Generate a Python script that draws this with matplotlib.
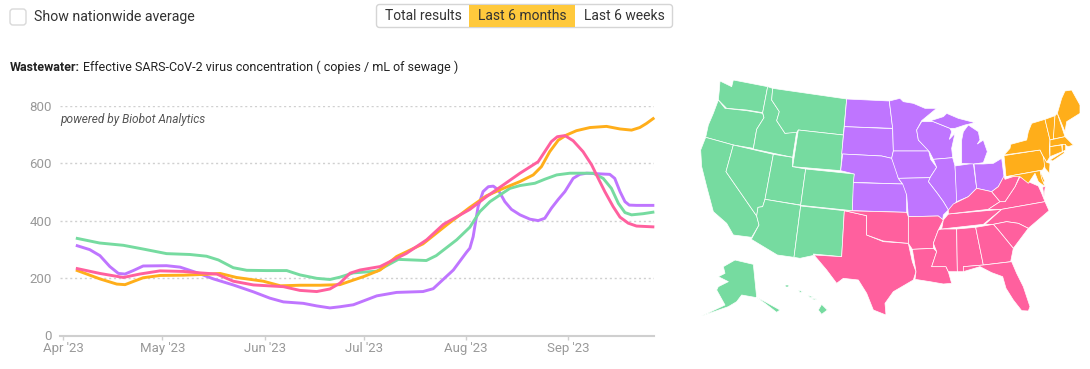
import matplotlib
matplotlib.use("Agg")
import matplotlib.pyplot as plt
from matplotlib.patches import Polygon, Rectangle, FancyBboxPatch

W, H = 1090, 369
FONT = "Roboto"

tick_days = [0, 30, 61, 91, 122, 153]
tick_labels = ["Apr '23", "May '23", "Jun '23", "Jul '23", "Aug '23", "Sep '23"]
y_ticks = [0, 200, 400, 600, 800]

green_x = [3.8,11,18.2,24.2,31.3,38.4,43.4,47,51.5,55.6,61.6,67.7,71.7,76.8,80.8,83.8,87.9,95,97.5,101.5,110,113,119.2,123.2,126.2,129.3,132.3,135.3,138.4,142.9,145.9,149.5,153.5,160.6,163.6,166.1,168.2,170.2,172.2,175.7,179.1]
green_y = [339,322,314,301,285,282,276,263,236,227,226,226,211,199,195,203,218,224,240,265,261,278,333,377,431,466,489,512,522,530,544,559,565,565,547,512,460,428,420,424,430]

purple_x = [3.8,8,11.1,14.1,16.7,18.7,21.2,24.2,31.3,35.4,40.4,45.5,51.5,57.6,62.6,66.7,72.7,76.8,80.8,83.8,87.9,95,101,109,112.1,118.2,122.2,123.2,124.2,125.7,127.2,128.8,130.3,131.8,133.8,135.8,138.4,141.4,143.9,145.9,147.9,150,152,154.5,156.5,158.6,165.6,167.1,168.7,170.2,171.5,173.7,179.1]
purple_y = [314,299,278,240,216,214,226,242,243,238,219,197,176,152,130,117,112,103,96,100,107,138,150,153,163,228,290,304,344,449,501,518,520,507,466,439,420,405,400,408,443,474,501,547,561,565,561,547,501,466,454,453,453]

orange_x = [3.8,11.1,16.2,18.7,21.2,24.2,29.3,36.4,43.4,47.5,52.5,60.6,65.8,71.7,77.8,83.8,91,96,101,109,116.2,123.2,128.2,133.3,138.4,142.4,144.9,147.4,150,152.5,155.5,159.6,164.6,168.7,172.2,174.7,176.7,179.1]
orange_y = [228,197,179,177,188,201,209,210,213,216,202,189,173,175,175,177,205,228,275,319,385,446,486,512,536,559,588,640,680,698,713,724,728,719,715,724,738,758]

pink_x = [3.8,11.1,18.2,23.2,29.3,36.4,41.4,46.5,51.5,57.6,66.7,71.7,76.8,80.8,83.8,86.9,89.9,96,104,110.1,115.2,123.2,128.2,133.3,138.4,143.9,145.9,147.9,149.7,152,154.5,157.5,160.1,162.1,164.1,166.6,168.7,171.2,173.7,179.1]
pink_y = [234,216,202,214,225,223,218,214,189,176,170,157,153,162,182,217,228,240,286,333,387,439,483,524,565,605,640,675,692,696,678,640,594,547,501,449,412,391,381,378]

C_GREEN, C_PURPLE, C_ORANGE, C_PINK = "#76DBA0", "#BF75FF", "#FFAE1A", "#FF609E"

west_states = {
 "WA": [(90,3),(125,20),(130,0),(233,20),(218,98),(170,90),(110,85),(85,60),(88,30)],
 "OR": [(85,60),(105,85),(170,92),(218,100),(222,113),(200,148),(190,205),(130,195),(47,172),(55,135),(70,100)],
 "CA": [(47,172),(130,195),(108,275),(200,408),(207,435),(185,472),(130,465),(110,430),(70,395),(50,320),(35,260),(32,210)],
 "NV": [(130,195),(250,223),(225,358),(218,380),(204,382),(200,408),(108,275)],
 "ID": [(233,20),(248,25),(245,60),(268,95),(260,122),(285,160),(320,155),(308,232),(190,207),(200,148),(222,113),(218,98)],
 "MT": [(248,25),(470,57),(460,165),(325,150),(320,157),(285,160),(260,122),(268,95),(245,60)],
 "WY": [(325,150),(460,165),(452,272),(308,260)],
 "UT": [(250,223),(308,232),(307,260),(347,267),(332,375),(225,358)],
 "CO": [(347,267),(493,282),(487,392),(332,376)],
 "AZ": [(225,358),(332,376),(312,532),(262,525),(184,478),(207,435),(200,408),(204,382),(218,380)],
 "NM": [(332,378),(463,392),(455,530),(370,522),(372,526),(330,535),(312,532)],
 "AK": [(100,560),(135,540),(190,553),(200,652),(225,665),(270,690),(260,697),(225,670),(200,653),(155,645),(140,665),(115,680),(35,708),(105,675),(80,630),(85,620),(115,605),(85,590),(105,580)],
 "HI1": [(385,690),(395,673),(412,690),(395,703)],
 "HI2": [(285,615),(297,615),(295,621),(287,621)],
 "HI3": [(325,630),(338,635),(330,638)],
 "HI4": [(355,647),(370,650),(360,653)],
 "HI5": [(365,655),(380,657),(372,660)],
}
purple_states = {
 "ND": [(470,57),(598,63),(608,145),(463,140)],
 "SD": [(463,140),(608,146),(610,213),(605,235),(575,228),(455,222)],
 "NE": [(458,222),(575,228),(605,235),(617,262),(625,295),(637,312),(490,307),(493,282),(452,272)],
 "KS": [(490,308),(640,312),(650,330),(650,397),(487,392)],
 "MN": [(598,63),(630,55),(640,65),(670,70),(705,85),(740,85),(695,122),(680,150),(685,180),(715,210),(716,213),(610,213),(608,145)],
 "IA": [(610,213),(716,213),(722,238),(740,262),(720,293),(625,295),(605,235)],
 "WI": [(695,125),(730,125),(780,145),(785,155),(778,178),(795,160),(785,205),(788,233),(730,238),(718,215),(685,180),(680,150)],
 "IL": [(730,238),(788,233),(795,258),(802,360),(790,380),(775,390),(760,365),(742,340),(715,305),(720,293),(740,262)],
 "MO": [(625,295),(720,293),(715,305),(742,340),(760,365),(775,390),(760,405),(758,420),(745,408),(655,410),(650,345),(638,312)],
 "IN": [(795,258),(850,250),(860,325),(835,350),(800,365)],
 "MI": [(815,250),(815,180),(820,155),(835,135),(865,155),(870,180),(862,192),(880,180),(892,215),(880,248),(852,252)],
 "UP": [(722,122),(760,110),(770,100),(805,115),(855,128),(825,135),(795,145),(780,145),(730,125)],
 "OH": [(852,252),(880,252),(910,250),(935,235),(942,290),(925,320),(905,335),(860,325)],
}
pink_states = {
 "TX": [(463,392),(530,407),(530,465),(580,485),(655,490),(667,545),(678,575),(670,600),(610,635),(585,670),(588,705),(550,690),(530,640),(505,600),(460,595),(440,610),(410,570),(372,525),(455,530)],
 "OK": [(463,392),(650,397),(655,410),(655,490),(580,483),(530,465),(530,407)],
 "AR": [(655,410),(745,408),(760,420),(745,450),(730,490),(730,505),(667,508),(655,490)],
 "LA": [(667,508),(730,505),(740,515),(725,560),(768,560),(775,575),(785,610),(760,612),(720,605),(675,598),(678,575)],
 "MS": [(755,447),(800,447),(802,575),(775,575),(768,560),(725,560),(740,515),(730,490),(745,450)],
 "AL": [(800,447),(857,442),(880,555),(820,560),(822,575),(802,575)],
 "TN": [(760,420),(775,402),(935,388),(880,433),(755,447)],
 "KY": [(775,390),(790,372),(835,350),(860,325),(905,335),(930,365),(895,388),(775,402)],
 "VA": [(895,388),(930,365),(945,365),(975,320),(990,290),(1015,305),(1045,318),(1055,340),(1065,365),(935,388)],
 "WV": [(905,335),(925,320),(942,288),(945,298),(975,288),(990,285),(975,320),(945,365),(930,365)],
 "VA2": [(1058,322),(1066,318),(1062,350)],
 "NC": [(1065,365),(1077,392),(1015,445),(985,430),(950,425),(910,433),(885,433),(935,388)],
 "SC": [(910,433),(950,425),(985,430),(1015,445),(970,505),(925,450)],
 "GA": [(857,442),(910,433),(925,450),(970,505),(962,545),(880,555)],
 "FL": [(820,560),(880,555),(965,545),(980,580),(1000,620),(1020,680),(1015,693),(995,692),(970,660),(948,625),(938,590),(905,578),(870,560),(820,575)],
}
orange_states = {
 "PA": [(942,227),(1050,210),(1060,230),(1070,247),(1058,270),(948,290)],
 "NY": [(942,225),(960,205),(962,193),(1010,180),(1015,155),(1025,130),(1065,118),(1080,180),(1078,210),(1080,230),(1070,247),(1060,230),(1050,210)],
 "LI": [(1080,240),(1120,215),(1125,218),(1088,243)],
 "NJ": [(1060,230),(1070,247),(1080,250),(1078,280),(1065,265)],
 "DE": [(1050,273),(1065,305),(1055,307)],
 "MD": [(948,290),(1050,272),(1055,295),(1065,320),(1045,305),(1035,280),(1015,310),(990,290),(970,290)],
 "VT": [(1065,118),(1095,107),(1093,145),(1090,177),(1080,180)],
 "NH": [(1095,107),(1102,100),(1125,170),(1090,177)],
 "ME": [(1102,100),(1115,55),(1125,33),(1145,30),(1170,75),(1170,100),(1130,125),(1125,155)],
 "MA": [(1080,180),(1125,170),(1150,195),(1135,200),(1120,193),(1080,200)],
 "CT": [(1080,200),(1115,195),(1117,215),(1080,230)],
 "RI": [(1117,193),(1127,193),(1127,210),(1117,215)],
}

fig = plt.figure(figsize=(W/100, H/100), dpi=100, facecolor="white")

def box(x0, y0, x1, y1):
    return [x0/W, 1-y1/H, (x1-x0)/W, (y1-y0)/H]

bg = fig.add_axes([0, 0, 1, 1], zorder=0)
bg.set_xlim(0, W); bg.set_ylim(H, 0); bg.axis("off")
bg.add_patch(FancyBboxPatch((10, 9), 16, 16, boxstyle="round,pad=0,rounding_size=3", fc="white", ec="#d9d9d9", lw=1))
bg.add_patch(FancyBboxPatch((376.5, 4.5), 296, 23, boxstyle="round,pad=0,rounding_size=3", fc="white", ec="#d5d5d5", lw=1))
bg.add_patch(Rectangle((469, 5), 106, 22, fc="#FFC93C", ec="none"))
bg.text(33.5, 17, "Show nationwide average", fontfamily=FONT, fontsize=10.2, color="#333333", va="center", ha="left")
for cx, s in zip([423, 522, 624], ["Total results", "Last 6 months", "Last 6 weeks"]):
    bg.text(cx, 16, s, fontfamily=FONT, fontsize=10, color="#333333", va="center", ha="center")
bg.text(10, 67.5, "Wastewater:", fontfamily=FONT, fontsize=9, fontweight="bold", color="#222222", va="center", ha="left")
bg.text(83, 67.5, "Effective SARS-CoV-2 virus concentration ( copies / mL of sewage )", fontfamily=FONT, fontsize=9, color="#222222", va="center", ha="left")
bg.text(60, 119, "powered by Biobot Analytics", fontfamily=FONT, fontsize=8.6, style="italic", color="#555555", va="center", ha="left")

ax = fig.add_axes(box(60, 105.7, 654, 335.5), zorder=1)
ax.patch.set_alpha(0)
ax.set_xlim(-1, 179)
ax.set_ylim(0, 800)
for s in ["top", "left", "right"]:
    ax.spines[s].set_visible(False)
ax.spines["bottom"].set_color("#cfcfcf")
ax.spines["bottom"].set_linewidth(1.5)
ax.set_yticks(y_ticks)
ax.set_xticks(tick_days)
ax.set_xticklabels(tick_labels)
ax.tick_params(axis="y", length=0, pad=6, labelcolor="#999999", labelsize=9.5)
ax.tick_params(axis="x", length=3, width=1, color="#cfcfcf", pad=2, labelcolor="#999999", labelsize=9.5)
for t in ax.get_xticklabels() + ax.get_yticklabels():
    t.set_fontfamily(FONT)
ax.yaxis.grid(True, color="#d0d0d0", linestyle=(0, (1.5, 2)), linewidth=1)
ax.set_axisbelow(True)
for xs, ys, c in [(purple_x, purple_y, C_PURPLE), (green_x, green_y, C_GREEN),
                  (orange_x, orange_y, C_ORANGE), (pink_x, pink_y, C_PINK)]:
    ax.plot(xs, ys, color=c, linewidth=2.1, solid_joinstyle="round", solid_capstyle="butt", clip_on=False)

m = fig.add_axes(box(690, 80, 1080, 330), zorder=1)
m.set_xlim(0, 1170); m.set_ylim(750, 0); m.axis("off")
for states, c in [(west_states, C_GREEN), (purple_states, C_PURPLE), (pink_states, C_PINK), (orange_states, C_ORANGE)]:
    for pts in states.values():
        m.add_patch(Polygon(pts, closed=True, fc=c, ec="white", lw=0.5, joinstyle="round"))

fig.savefig("out.png", dpi=100)
